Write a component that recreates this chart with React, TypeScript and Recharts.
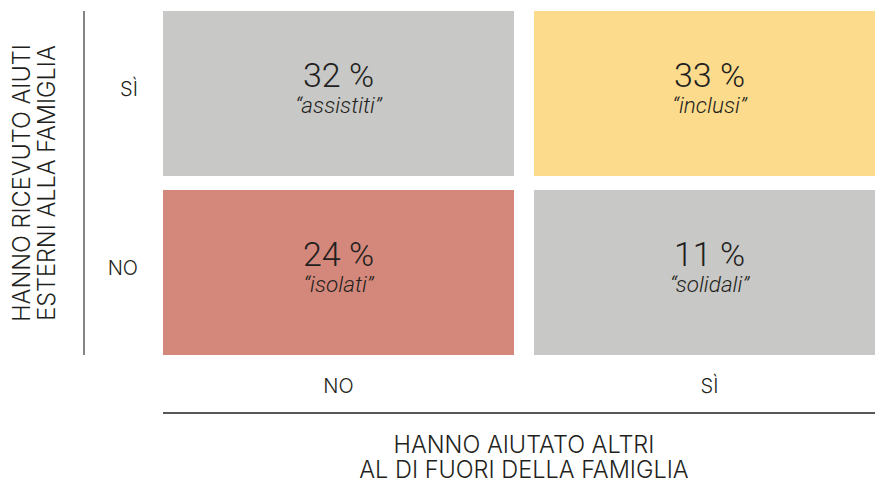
import { Bar, BarChart, Cell, XAxis, YAxis } from "recharts";

// columns: "hanno aiutato altri al di fuori della famiglia"
const columns = ["NO", "SÌ"];
// rows: "hanno ricevuto aiuti esterni alla famiglia" (bottom to top)
const rows = ["NO", "SÌ"];

// percentages per column, one list per row
const pctRowNo = [24, 11];
const pctRowSi = [32, 33];
const nameRowNo = ["isolati", "solidali"];
const nameRowSi = ["assistiti", "inclusi"];

const yTitle = ["HANNO RICEVUTO AIUTI", "ESTERNI ALLA FAMIGLIA"];
const xTitle = ["HANNO AIUTATO ALTRI", "AL DI FUORI DELLA FAMIGLIA"];

const GRAY = "#C8C8C6";
const fillRowNo = ["#D3887B", GRAY];
const fillRowSi = [GRAY, "#FDDB8D"];

const INK = "#231F20";
const FONT = "Roboto, 'Noto Sans', sans-serif";
const CAPS_FONT = "Inter, Roboto, sans-serif";
const GAP_X = 20;
const GAP_Y = 14;

// every cell spans one unit of the row axis
const data = columns.map((col, i) => ({
  col,
  no: 1,
  si: 1,
  pctNo: pctRowNo[i],
  pctSi: pctRowSi[i],
  nameNo: nameRowNo[i],
  nameSi: nameRowSi[i],
}));

function makeCell(row: "no" | "si") {
  return function CellShape(props: any) {
    const { x, y, width, height, index, fill, payload } = props;
    let cx = x;
    let w = width;
    if (index === 0) {
      w -= GAP_X / 2;
    } else {
      cx += GAP_X / 2;
      w -= GAP_X / 2;
    }
    let cy = y;
    let h = height;
    if (row === "no") {
      cy += GAP_Y / 2;
      h -= GAP_Y / 2;
    } else {
      h -= GAP_Y / 2;
    }
    const midX = cx + w / 2;
    const midY = cy + h / 2;
    const pct = row === "no" ? payload.pctNo : payload.pctSi;
    const name = row === "no" ? payload.nameNo : payload.nameSi;
    return (
      <g>
        <rect x={cx} y={cy} width={w} height={h} fill={fill} />
        <text textAnchor="middle" fontFamily={FONT} fontWeight={300} fill={INK}>
          <tspan x={midX} y={midY - 6.5} fontSize={34}>
            {`${pct} %`}
          </tspan>
          <tspan x={midX} y={midY + 19.5} fontSize={22.5} fontStyle="italic">
            {`“${name}”`}
          </tspan>
        </text>
      </g>
    );
  };
}

function ColTick(props: any) {
  const { x, y, payload, index } = props;
  const shift = index === 0 ? -GAP_X / 4 : GAP_X / 4;
  return (
    <text
      x={x + shift}
      y={y}
      dy="0.72em"
      textAnchor="middle"
      fontFamily={CAPS_FONT}
      fontWeight={300}
      fontSize={20}
      fill={INK}
    >
      {payload.value}
    </text>
  );
}

function RowTick(props: any) {
  const { x, y, payload } = props;
  const idx = Math.floor(payload.value);
  const shift = -5 + (idx === 0 ? GAP_Y / 4 : -GAP_Y / 4);
  return (
    <text
      x={x}
      y={y + shift}
      dy="0.36em"
      textAnchor="end"
      fontFamily={CAPS_FONT}
      fontWeight={300}
      fontSize={20}
      fill={INK}
    >
      {rows[idx]}
    </text>
  );
}

function YTitle(props: any) {
  const { viewBox } = props;
  const midY = viewBox.y + viewBox.height / 2;
  return (
    <text
      transform={`translate(${viewBox.x + 29.5}, ${midY}) rotate(-90)`}
      textAnchor="middle"
      fontFamily={CAPS_FONT}
      fontWeight={300}
      fontSize={23.5}
      fill={INK}
    >
      {yTitle.map((line, i) => (
        <tspan key={line} x={0} y={i * 25.5}>
          {line}
        </tspan>
      ))}
    </text>
  );
}

function XTitle(props: any) {
  const { viewBox } = props;
  const midX = viewBox.x + viewBox.width / 2;
  return (
    <text
      textAnchor="middle"
      fontFamily={CAPS_FONT}
      fontWeight={300}
      fontSize={23.5}
      fill={INK}
    >
      {xTitle.map((line, i) => (
        <tspan key={line} x={midX} y={viewBox.y + 40 + i * 24.5}>
          {line}
        </tspan>
      ))}
    </text>
  );
}

export default function App() {
  return (
    <div
      style={{
        position: "fixed",
        left: 0,
        top: 0,
        width: 875,
        height: 481,
        overflow: "hidden",
        background: "#fff",
      }}
    >
      <BarChart
        width={885}
        height={481}
        data={data}
        margin={{ top: 11, right: 0, bottom: 0, left: 0 }}
        barCategoryGap={0}
      >
        <XAxis
          dataKey="col"
          height={58}
          axisLine={false}
          tickLine={false}
          tickSize={0}
          tickMargin={24}
          tick={<ColTick />}
        />
        <XAxis
          xAxisId="line"
          dataKey="col"
          height={68}
          tick={false}
          tickLine={false}
          axisLine={{ stroke: INK, strokeWidth: 1.3 }}
          label={<XTitle />}
        />
        <YAxis
          type="number"
          domain={[0, 2]}
          ticks={[0.5, 1.5]}
          width={79}
          axisLine={false}
          tickLine={false}
          tickSize={0}
          tickMargin={25}
          tick={<RowTick />}
        />
        <YAxis
          yAxisId="line"
          type="number"
          domain={[0, 2]}
          width={84}
          tick={false}
          tickLine={false}
          axisLine={{ stroke: INK, strokeWidth: 1.1 }}
          label={<YTitle />}
        />
        <Bar dataKey="no" stackId="m" isAnimationActive={false} shape={makeCell("no")}>
          {data.map((d, i) => (
            <Cell key={`no-${d.col}`} fill={fillRowNo[i]} />
          ))}
        </Bar>
        <Bar dataKey="si" stackId="m" isAnimationActive={false} shape={makeCell("si")}>
          {data.map((d, i) => (
            <Cell key={`si-${d.col}`} fill={fillRowSi[i]} />
          ))}
        </Bar>
      </BarChart>
    </div>
  );
}
